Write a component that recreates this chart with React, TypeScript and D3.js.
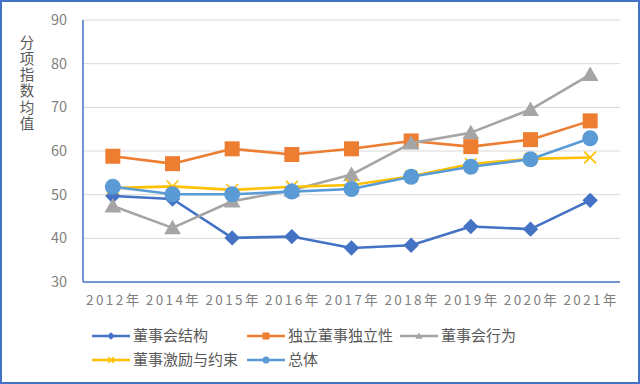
import React, { useEffect } from "react";
import * as d3 from "d3";

const categories = ["2012年", "2014年", "2015年", "2016年", "2017年", "2018年", "2019年", "2020年", "2021年"];
const yTicks = [30, 40, 50, 60, 70, 80, 90];
const structure = [49.7, 49.0, 40.1, 40.4, 37.8, 38.4, 42.7, 42.1, 48.7];
const independence = [58.8, 57.1, 60.5, 59.2, 60.5, 62.3, 61.0, 62.6, 66.9];
const behavior = [47.4, 42.4, 48.5, 51.0, 54.6, 61.8, 64.2, 69.5, 77.5];
const incentive = [51.5, 51.9, 51.1, 51.8, 52.2, 54.2, 57.0, 58.2, 58.5];
const overall = [51.8, 50.1, 50.1, 50.7, 51.3, 54.1, 56.4, 58.1, 62.9];

const seriesNames = ["董事会结构", "独立董事独立性", "董事会行为", "董事激励与约束", "总体"];
const colors = ["#4472C4", "#ED7D31", "#A5A5A5", "#FFC000", "#5B9BD5"];
const markers = ["diamond", "square", "triangle", "x", "circle"];
const seriesData = [structure, independence, behavior, incentive, overall];

const FONT = "'Noto Sans CJK SC', 'Noto Sans', sans-serif";

function Marker({ type, x, y, color, size }: { type: string; x: number; y: number; color: string; size: number }) {
  if (type === "diamond") {
    const s = size * 0.55;
    return <path d={`M${x},${y - s}L${x + s},${y}L${x},${y + s}L${x - s},${y}Z`} fill={color} />;
  }
  if (type === "square") {
    const s = size / 2;
    return <rect x={x - s} y={y - s} width={size} height={size} fill={color} />;
  }
  if (type === "triangle") {
    const s = size / 2;
    return <path d={`M${x},${y - s}L${x + s * 1.05},${y + s * 0.8}L${x - s * 1.05},${y + s * 0.8}Z`} fill={color} />;
  }
  if (type === "x") {
    const s = size * 0.42;
    return (
      <path d={`M${x - s},${y - s}L${x + s},${y + s}M${x + s},${y - s}L${x - s},${y + s}`} stroke={color} strokeWidth={1.6} fill="none" />
    );
  }
  return <circle cx={x} cy={y} r={size / 2} fill={color} />;
}

export default function App() {
  useEffect(() => {
    document.body.style.margin = "0";
  }, []);
  const W = 640, H = 384;
  const left = 83, right = 620, top = 20, bottom = 282;
  const x = d3.scaleBand<string>().domain(categories).range([left, right]);
  const y = d3.scaleLinear().domain([30, 90]).range([bottom, top]);
  const cx = (c: string) => (x(c) as number) + x.bandwidth() / 2;
  const line = d3
    .line<number>()
    .x((_, i) => cx(categories[i]))
    .y((d) => y(d));
  const markerSizes = [14, 15, 16, 14, 16];
  const legendItems = [
    { i: 0, lx: 92, ly: 336 },
    { i: 1, lx: 247, ly: 336 },
    { i: 2, lx: 400, ly: 336 },
    { i: 3, lx: 92, ly: 360 },
    { i: 4, lx: 247, ly: 360 },
  ];
  return (
    <svg width={W} height={H} style={{ display: "block", fontFamily: FONT }}>
      <rect x={0} y={0} width={W} height={H} fill="#fff" />
      <rect x={1} y={1} width={W - 2} height={H - 2} fill="none" stroke="#4472C4" strokeWidth={2} />
      {yTicks.map((t) => (
        <g key={t}>
          {t > 30 && <line x1={left} x2={right} y1={y(t)} y2={y(t)} stroke="#D9D9D9" strokeWidth={1} />}
          <text x={67} y={y(t)} dy="0.35em" textAnchor="end" fontSize={14.5} fill="#808080">
            {t}
          </text>
        </g>
      ))}
      <line x1={left} x2={left} y1={top} y2={bottom} stroke="#4472C4" strokeWidth={1.5} />
      <line x1={left} x2={right} y1={bottom} y2={bottom} stroke="#4472C4" strokeWidth={1.5} />
      {categories.map((c) => (
        <text key={c} x={cx(c) + 1} y={300} dy="0.35em" textAnchor="middle" fontSize={13.5} fill="#7F7F7F" letterSpacing={2.4}>
          {c}
        </text>
      ))}
      <text
        x={27}
        y={35}
        fontSize={14.5}
        fill="#595959"
        letterSpacing={1.7}
        style={{ writingMode: "vertical-rl", textOrientation: "upright" } as React.CSSProperties}
      >
        分项指数均值
      </text>
      {seriesData.map((d, s) => (
        <g key={s}>
          <path d={line(d) || ""} fill="none" stroke={colors[s]} strokeWidth={2.6} strokeLinejoin="round" />
          {d.map((v, i) => (
            <Marker key={i} type={markers[s]} x={cx(categories[i])} y={y(v)} color={colors[s]} size={markerSizes[s]} />
          ))}
        </g>
      ))}
      {legendItems.map(({ i, lx, ly }) => (
        <g key={i}>
          <line x1={lx} x2={lx + 38} y1={ly} y2={ly} stroke={colors[i]} strokeWidth={2.6} />
          <Marker type={markers[i]} x={lx + 19} y={ly} color={colors[i]} size={7} />
          <text x={lx + 41} y={ly} dy="0.35em" fontSize={15} fill="#595959">
            {seriesNames[i]}
          </text>
        </g>
      ))}
    </svg>
  );
}
